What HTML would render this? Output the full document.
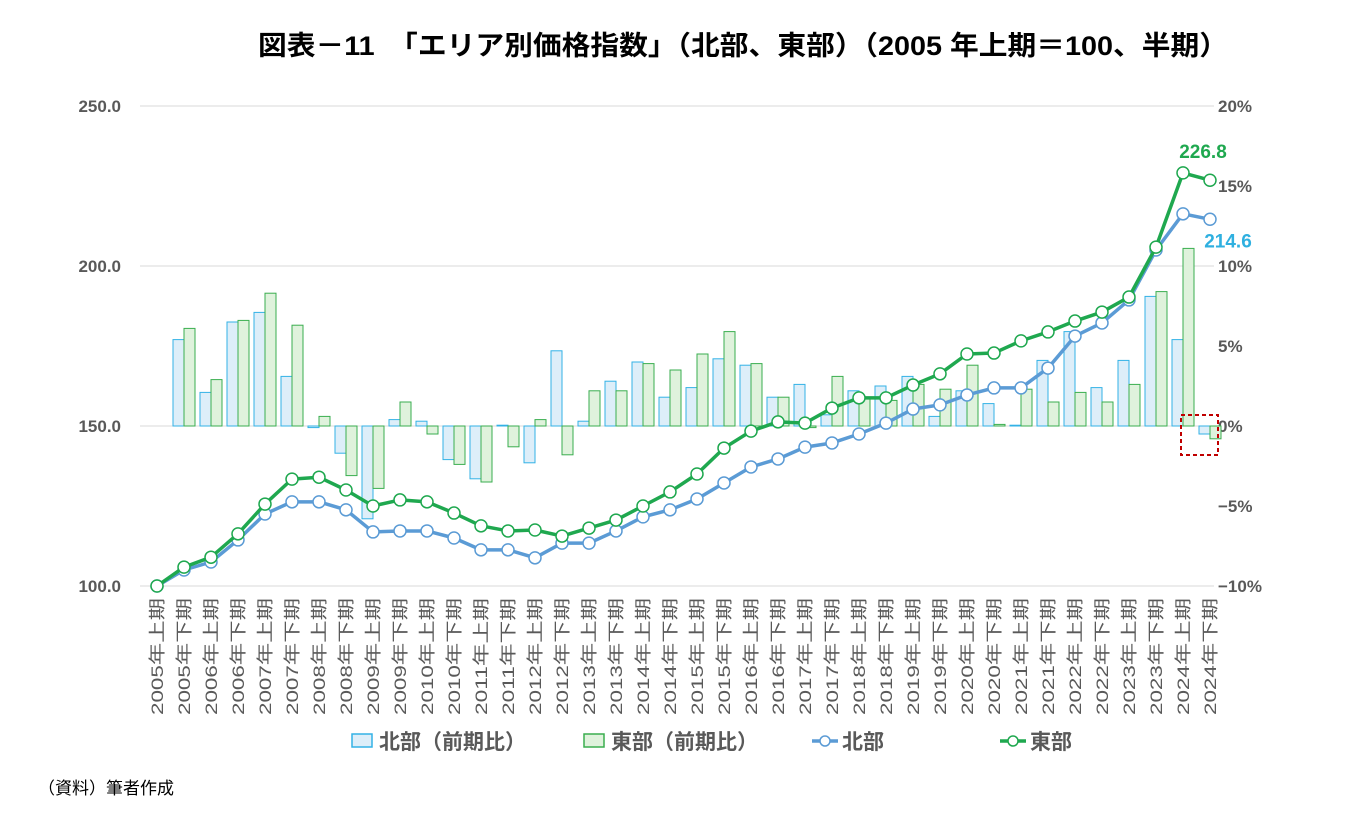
<!DOCTYPE html>
<html><head><meta charset="utf-8">
<style>
html,body{margin:0;padding:0;background:#fff;}
body{width:1352px;height:835px;overflow:hidden;font-family:"Liberation Sans","Noto Sans CJK JP",sans-serif;}
svg text{font-family:"Liberation Sans","Noto Sans CJK JP",sans-serif;}
</style></head>
<body>
<svg id="chart" width="1352" height="835" xmlns="http://www.w3.org/2000/svg">
<text x="258" y="55" font-size="27" font-weight="bold" fill="#000" textLength="970" lengthAdjust="spacingAndGlyphs">図表－11　「エリア別価格指数」（北部、東部）（2005 年上期＝100、半期）</text>
<text x="38" y="794" font-size="17" fill="#000">（資料）筆者作成</text>
</svg>
<script>
const years = [];
for (let y = 2005; y <= 2024; y++) { years.push(y + "年上期"); years.push(y + "年下期"); }
const categories = years;
const northIndex = [100,105,107.5,114.4,122.5,126.3,126.3,123.8,116.9,117.2,117.2,115,111.3,111.3,108.8,113.4,113.4,117.2,121.6,123.8,127.2,132.2,137.2,139.7,143.4,144.7,147.5,150.9,155.3,156.6,159.7,161.9,161.9,168.1,178.1,182.2,189.4,205,216.3,214.6];
const eastIndex = [100,105.9,109,116.3,125.6,133.4,134,130,125,126.9,126.3,122.8,118.8,117.2,117.5,115.6,118.1,120.6,125,129.4,135,143.1,148.4,151.3,150.9,155.6,158.8,158.8,162.8,166.3,172.5,172.8,176.6,179.4,182.8,185.6,190.3,205.9,229.1,226.8];
const northChange = [null,5.4,2.1,6.5,7.1,3.1,-0.1,-1.7,-5.8,0.4,0.3,-2.1,-3.3,0.05,-2.3,4.7,0.3,2.8,4.0,1.8,2.4,4.2,3.8,1.8,2.6,0.7,2.2,2.5,3.1,0.6,2.2,1.4,0.05,4.1,5.9,2.4,4.1,8.1,5.4,-0.5];
const eastChange = [null,6.1,2.9,6.6,8.3,6.3,0.6,-3.1,-3.9,1.5,-0.5,-2.4,-3.5,-1.3,0.4,-1.8,2.2,2.2,3.9,3.5,4.5,5.9,3.9,1.8,-0.1,3.1,1.8,1.6,2.6,2.3,3.8,0.1,2.3,1.5,2.1,1.5,2.6,8.4,11.1,-0.8];
const leftTicks = ["100.0","150.0","200.0","250.0"];
const rightTicks = ["−10%","−5%","0%","5%","10%","15%","20%"];

const svg = document.getElementById('chart');
const NS = "http://www.w3.org/2000/svg";
function mk(tag, attrs, parent) { const e = document.createElementNS(NS, tag); for (const k in attrs) e.setAttribute(k, attrs[k]); (parent||svg).appendChild(e); return e; }
const x0 = 157, dx = 27.0;
const xs = i => x0 + i * dx;
const yL = v => 586 - (v - 100) * 3.2;
const yR = p => 426 - p * 16;

leftTicks.forEach(t => {
  const y = yL(parseFloat(t));
  const g = mk('line', {x1:140, x2:1214, y1:y, y2:y, stroke:'#d9d9d9', 'stroke-width':1});
  
  
  const tx = mk('text', {x:121, y:y+6, 'text-anchor':'end', 'font-size':17, 'font-weight':'bold', fill:'#595959'});
  tx.textContent = t;
  
  
});
rightTicks.forEach((t, i) => {
  const p = -10 + i * 5;
  const tx = mk('text', {x:1218, y:yR(p)+6, 'font-size':17, 'font-weight':'bold', fill:'#595959'});
  tx.textContent = t;
  
  
});

const bw = 11;
categories.forEach((c, i) => {
  [[northChange, '#ddeef9', '#33b2e6', -bw], [eastChange, '#dff2dc', '#3aae4f', 0]].forEach(([arr, fill, stroke, off], k) => {
    const v = arr[i];
    if (v === null) return;
    const y1 = yR(Math.max(v, 0)), y2 = yR(Math.min(v, 0));
    const r = mk('rect', {x:xs(i)+off, y:y1, width:bw, height:Math.max(y2-y1, 0.5), fill:fill, stroke:stroke, 'stroke-width':1});
    
    
  });
});

[[northIndex, '#5b9bd5', 'line-north'], [eastIndex, '#1fa84f', 'line-east']].forEach(([arr, col, name]) => {
  const d = arr.map((v, i) => (i ? 'L' : 'M') + xs(i) + ',' + yL(v)).join(' ');
  const p = mk('path', {d:d, fill:'none', stroke:col, 'stroke-width':3.5, 'stroke-linejoin':'round'});
  
  
  arr.forEach((v, i) => {
    const c = mk('circle', {cx:xs(i), cy:yL(v), r:6, fill:'#fff', stroke:col, 'stroke-width':1.5});
    
    
  });
});

const lbE = mk('text', {x:xs(39)-7, y:yL(eastIndex[39])-22, 'text-anchor':'middle', 'font-size':19, 'font-weight':'bold', fill:'#1fa84f'});
lbE.textContent = eastIndex[39].toFixed(1);


const lbN = mk('text', {x:xs(39)+18, y:yL(northIndex[39])+28, 'text-anchor':'middle', 'font-size':19, 'font-weight':'bold', fill:'#2fb0e0'});
lbN.textContent = northIndex[39].toFixed(1);



const hb = mk('rect', {x:1181, y:415, width:37, height:40, fill:'none', stroke:'#c00000', 'stroke-width':2, 'stroke-dasharray':'4,3'});



categories.forEach((c, i) => {
  const t = mk('text', {x:0, y:0, transform:`translate(${xs(i)+6},598) rotate(-90)`, 'text-anchor':'end', 'font-size':17, fill:'#595959', textLength:117, lengthAdjust:'spacingAndGlyphs'});
  t.textContent = c;
  
  
});

const lg = mk('g', {});


const items = [
  {type:'box', fill:'#ddeef9', stroke:'#33b2e6', x:352, tx:379, label:'北部（前期比）', name:'legend-north-change'},
  {type:'box', fill:'#dff2dc', stroke:'#3aae4f', x:584, tx:611, label:'東部（前期比）', name:'legend-east-change'},
  {type:'line', stroke:'#5b9bd5', x:812, tx:842, label:'北部', name:'legend-north'},
  {type:'line', stroke:'#1fa84f', x:1000, tx:1030, label:'東部', name:'legend-east'}
];
items.forEach(it => {
  const g = mk('g', {}, lg);
  
  
  if (it.type === 'box') mk('rect', {x:it.x, y:734, width:20, height:13, fill:it.fill, stroke:it.stroke, 'stroke-width':1.5}, g);
  else { mk('line', {x1:it.x, x2:it.x+26, y1:741, y2:741, stroke:it.stroke, 'stroke-width':3.5}, g); mk('circle', {cx:it.x+13, cy:741, r:5, fill:'#fff', stroke:it.stroke, 'stroke-width':1.5}, g); }
  const t = mk('text', {x:it.tx, y:749, 'font-size':21, 'font-weight':'bold', fill:'#595959'}, g);
  t.textContent = it.label;
});
</script>
</body></html>
